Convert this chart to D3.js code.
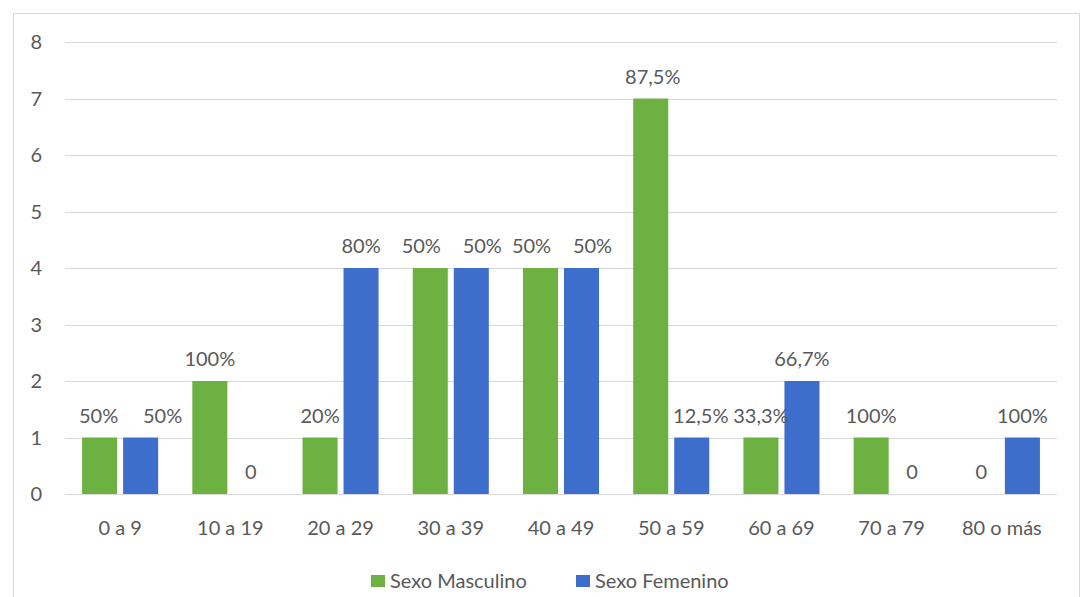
<!DOCTYPE html>
<html>
<head>
<meta charset="utf-8">
<script src="https://cdn.jsdelivr.net/npm/d3@7"></script>
<style>
  body { margin: 0; background: #fff; }
  text { font-family: Lato, "Open Sans", sans-serif; fill: #595959; }
</style>
</head>
<body>
<div id="chart"></div>
<script>
const categories = ['0 a 9', '10 a 19', '20 a 29', '30 a 39', '40 a 49', '50 a 59', '60 a 69', '70 a 79', '80 o más']
const series = ['Sexo Masculino', 'Sexo Femenino']
const masculino = [1, 2, 1, 4, 4, 7, 1, 1, 0]
const femenino = [1, 0, 4, 4, 4, 1, 2, 0, 1]
const masculinoLabels = ['50%', '100%', '20%', '50%', '50%', '87,5%', '33,3%', '100%', '0']
const femeninoLabels = ['50%', '0', '80%', '50%', '50%', '12,5%', '66,7%', '0', '100%']
const yTicks = [0, 1, 2, 3, 4, 5, 6, 7, 8]
const colors = ['#6cb142', '#3d6ecb']

// labels that were dragged aside in the original so they don't collide
const nudgeM = [-1, 0, 0, -9, -9, 2, 0, 0, 0]
const nudgeF = [22, 0, 0, 11, 11, 9, 0, 0, 0]

const W = 1083, H = 597
const plotLeft = 65, plotRight = 1057, plotTop = 42, plotBottom = 494
const fs = '20px'

const svg = d3.select('#chart')
    .append('svg')
    .attr('width', W)
    .attr('height', H)

// chart frame
svg.append('rect')
    .attr('x', 13.5).attr('y', 13.5)
    .attr('width', 1066).attr('height', 600)
    .attr('fill', 'none')
    .attr('stroke', '#d9d9d9')

const y = d3.scaleLinear().domain([0, 8]).range([plotBottom, plotTop])
const x0 = d3.scaleBand().domain(categories).range([plotLeft, plotRight])
    .paddingInner(0.31).paddingOuter(0.155)
const x1 = d3.scaleBand().domain(series).range([0, x0.bandwidth()]).paddingInner(0.146)

// gridlines
svg.append('g').selectAll('line')
    .data(yTicks)
    .enter().append('line')
    .attr('x1', plotLeft).attr('x2', plotRight)
    .attr('y1', d => Math.round(y(d)) + 0.5)
    .attr('y2', d => Math.round(y(d)) + 0.5)
    .attr('stroke', '#d9d9d9')

// y labels
svg.append('g').selectAll('text')
    .data(yTicks)
    .enter().append('text')
    .attr('x', 42)
    .attr('y', d => y(d))
    .attr('dy', '0.35em')
    .attr('text-anchor', 'end')
    .style('font-size', fs)
    .text(d => d)

const rows = categories.map((c, i) => ({
    cat: c,
    vals: [
        { s: series[0], v: masculino[i], lab: masculinoLabels[i], k: 0, dx: nudgeM[i] },
        { s: series[1], v: femenino[i], lab: femeninoLabels[i], k: 1, dx: nudgeF[i] }
    ]
}))

const groups = svg.append('g').selectAll('g')
    .data(rows)
    .enter().append('g')
    .attr('transform', d => `translate(${x0(d.cat)},0)`)

groups.selectAll('rect')
    .data(d => d.vals)
    .enter().append('rect')
    .attr('x', d => x1(d.s))
    .attr('y', d => y(d.v))
    .attr('width', x1.bandwidth())
    .attr('height', d => y(0) - y(d.v))
    .attr('fill', d => colors[d.k])

groups.selectAll('text')
    .data(d => d.vals)
    .enter().append('text')
    .attr('x', d => x1(d.s) + x1.bandwidth() / 2 + d.dx)
    .attr('y', d => y(d.v) - 22)
    .attr('dy', '0.35em')
    .attr('text-anchor', 'middle')
    .style('font-size', fs)
    .text(d => d.lab)

// x labels
svg.append('g').selectAll('text')
    .data(categories)
    .enter().append('text')
    .attr('x', d => x0(d) + x0.bandwidth() / 2)
    .attr('y', 528)
    .attr('dy', '0.35em')
    .attr('text-anchor', 'middle')
    .style('font-size', fs)
    .text(d => d)

// legend
const legendX = [371, 576]
const legend = svg.append('g').selectAll('g')
    .data(series)
    .enter().append('g')
    .attr('transform', (d, i) => `translate(${legendX[i]},581)`)
legend.append('rect')
    .attr('x', 0).attr('y', -6)
    .attr('width', 14).attr('height', 12)
    .attr('fill', (d, i) => colors[i])
legend.append('text')
    .attr('x', 19)
    .attr('dy', '0.35em')
    .style('font-size', fs)
    .text(d => d)
</script>
</body>
</html>
